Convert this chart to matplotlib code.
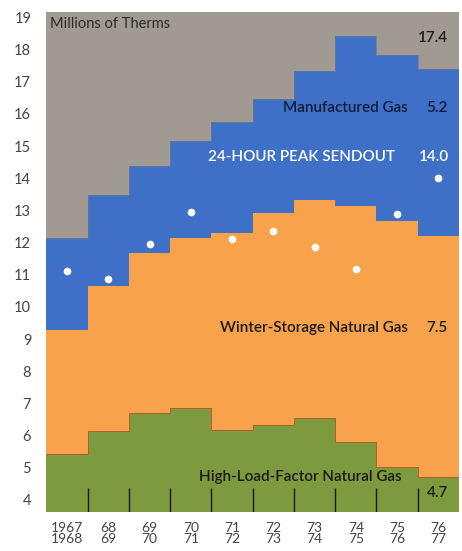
import matplotlib.pyplot as plt
import numpy as np

# Heating seasons, 1967-1968 through 1976-1977
season_start = ["1967", "68", "69", "70", "71", "72", "73", "74", "75", "76"]
season_end = ["1968", "69", "70", "71", "72", "73", "74", "75", "76", "77"]

# Supply by source, millions of therms
high_load_factor = [5.42, 6.15, 6.69, 6.86, 6.18, 6.33, 6.54, 5.80, 5.04, 4.7]
winter_storage = [3.87, 4.50, 4.99, 5.27, 6.11, 6.59, 6.78, 7.34, 7.63, 7.5]
manufactured = [2.84, 2.83, 2.70, 3.04, 3.46, 3.55, 4.00, 5.27, 5.17, 5.2]

# 24-hour peak sendout, millions of therms
peak_sendout = [11.13, 10.86, 11.95, 12.95, 12.10, 12.37, 11.85, 11.18, 12.90, 14.0]

y_ticks = list(range(4, 20))

GRAY = "#a19a93"
BLUE = "#3d70c6"
ORANGE = "#f8a24c"
GREEN = "#7e9a3e"

plt.rcParams["font.family"] = ["Lato", "DejaVu Sans"]

green_top = np.array(high_load_factor)
orange_top = green_top + np.array(winter_storage)
total_top = orange_top + np.array(manufactured)
edges = np.arange(len(season_start) + 1)
centers = edges[:-1] + 0.5

fig = plt.figure(figsize=(4.62, 5.51), dpi=100)
fig.patch.set_facecolor("white")
ax = fig.add_axes([0.1006, 0.0708, 0.8929, 0.9074])
ax.set_facecolor(GRAY)

ax.stairs(total_top, edges, baseline=orange_top, fill=True, color=BLUE, lw=0)
ax.stairs(orange_top, edges, baseline=green_top, fill=True, color=ORANGE, lw=0)
ax.stairs(green_top, edges, baseline=0, fill=True, color=GREEN, lw=0)
ax.stairs(total_top, edges, baseline=None, color="#6f7a8a", lw=0.5)
ax.stairs(green_top, edges, baseline=None, color="#b0602e", lw=0.7)

ax.plot(centers, peak_sendout, "o", color="white", ms=5.5, mec="none")

ax.set_xlim(0, len(season_start))
ax.set_ylim(3.627, 19.165)

# short separators between seasons along the bottom
ax.vlines(edges[1:-1], 3.627, 4.38, color="#1a1a1a", lw=1.0)

ax.set_yticks(y_ticks)
ax.set_yticklabels([str(t) for t in y_ticks], fontsize=10.5, color="#444444")
ax.set_xticks(centers)
ax.set_xticklabels([f"{a}\n{b}" for a, b in zip(season_start, season_end)],
                   fontsize=10, color="#444444", linespacing=0.9)
ax.tick_params(axis="y", length=0, pad=11)
ax.tick_params(axis="x", length=0, pad=7)
for side in ax.spines.values():
    side.set_visible(False)

label = dict(fontsize=11, fontweight="semibold", va="center")

ax.text(0.085, 18.78, "Millions of Therms", fontsize=10.5, color="#2a2a2a",
        va="center", ha="left")
ax.text(9.73, 18.36, "17.4", color="#1a1a1a", ha="right", **label)
ax.text(8.76, 16.18, "Manufactured Gas", color="#141c3a", ha="right", **label)
ax.text(9.73, 16.18, "5.2", color="#141c3a", ha="right", **label)
ax.text(3.92, 14.66, "24-HOUR PEAK SENDOUT", color="white", ha="left", **label)
ax.text(9.76, 14.66, "14.0", color="white", ha="right", **label)
ax.text(8.76, 9.33, "Winter-Storage Natural Gas", color="#1a1a1a", ha="right", **label)
ax.text(9.73, 9.33, "7.5", color="#1a1a1a", ha="right", **label)
ax.text(3.7, 4.71, "High-Load-Factor Natural Gas", color="#1a1a1a", ha="left", **label)
ax.text(9.22, 4.22, "4.7", color="#1a1a1a", ha="left", **label)

fig.savefig("out.png", dpi=100)
